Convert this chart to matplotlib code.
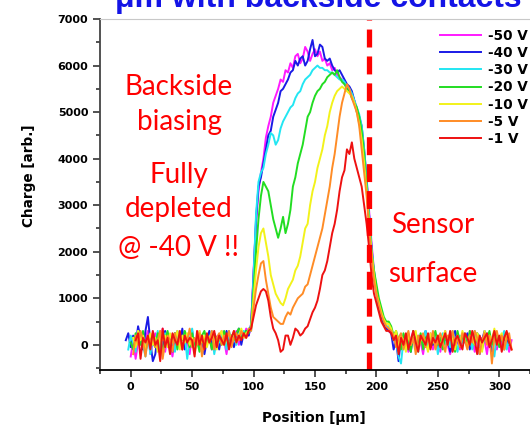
import matplotlib
matplotlib.use("Agg")
import matplotlib.pyplot as plt
import numpy as np
from matplotlib.ticker import MultipleLocator

nan = np.nan

# position grid [um], one sample every 2 um
x = np.arange(-4, 311, 2)

labels = ["-50 V", "-40 V", "-30 V", "-20 V", "-10 V", "-5 V", "-1 V"]
colors = ["#ff1aff", "#1a1ae6", "#22e6f2", "#22dd22", "#f2f21a", "#ff8c26", "#ee1111"]

# charge [arb.]
# rows: x=-4..98 (baseline), x=100..208 (signal), x=210..310 (baseline)
m50 = [nan, nan, -250, 100, -300, 50, 200, -100, 150, 300,
       -200, 50, 250, -50, 100, 350, -150, 200, 0, -250,
       150, 300, 50, -100, 200, 100, -200, 250, 0, 150,
       300, -150, 100, 50, 200, -100, 250, 150, -50, 300,
       100, -200, 200, 50, 150, 300, 0, 250, 150, 350,
       200, 400,
       1600, 2600, 3300, 3700, 4000, 4450, 4700, 4900, 5200, 5350,
       5500, 5700, 5650, 5900, 5850, 6050, 5950, 6200, 6250, 6050,
       6150, 6400, 6300, 6100, 6250, 6350, 6200, 6300, 6100, 6150,
       6000, 6050, 5900, 5950, 5800, 5750, 5700, 5600, 5550, 5450,
       5400, 5250, 5100, 4850, 4500, 4000, 3500, 2900, 2200, 1600,
       1200, 900, 700, 550, 400,
       300, 250, 150, 100, -100, 200, 0, 150, -150, 100,
       300, -50, 200, 50, -200, 150, 100, 250, -100, 50,
       200, -150, 100, 300, 0, -200, 100, 250, 50, -100,
       150, 200, -50, 300, 100, -150, 250, 0, 150, 100,
       -200, 200, 50, 300, -100, 150, 0, 250, 100, -150,
       100]
m40 = [100, 250, -50, 200, 0, 400, 150, -100, 300, 600,
       50, -350, -200, 200, 100, -50, 300, 50, 150, -150,
       250, 100, 0, 350, -100, 200, 100, 300, -50, 50,
       250, 150, -200, 100, 300, 0, 200, 150, -100, 250,
       50, 300, 100, 200, -50, 150, 350, 0, 250, 300,
       200, 450,
       1500, 2700, 3400, 3600, 3900, 4200, 4500, 4600, 4900, 5050,
       5200, 5450, 5500, 5600, 5700, 5850, 5900, 6100, 6000, 6150,
       6200, 6000, 6100, 6350, 6550, 6200, 6250, 6450, 6400, 6150,
       6100, 6150, 6000, 5900, 5850, 5900, 5800, 5700, 5600, 5550,
       5450, 5250, 5000, 4900, 4700, 4200, 3600, 2800, 2100, 1500,
       1100, 800, 600, 450, 350,
       300, 250, -100, 100, -350, 150, 0, 200, 100, -150,
       250, 50, -100, 200, 100, 300, -50, 150, 0, 250,
       -100, 100, 200, 50, 150, -150, 0, 300, 100, -50,
       200, 50, 250, -100, 150, 0, 200, -200, 100, 300,
       50, 150, -150, 250, 0, 100, 200, -100, 150, 0,
       nan]
m30 = [nan, -100, 200, 50, -150, 300, 100, 0, -250, 200,
       -200, 150, 50, 300, -100, 100, 250, -50, 200, 100,
       -150, 300, 50, 150, 200, -300, 100, 350, -100, 0,
       250, 100, -50, 200, 150, 300, -200, 100, 50, 250,
       150, -100, 300, 100, 200, 0, 250, 150, 300, 200,
       350, 300,
       1500, 2800, 3500, 3700, 3800, 4100, 4300, 4550, 4500, 4300,
       4400, 4650, 4800, 4900, 5000, 5100, 5150, 5300, 5400, 5450,
       5600, 5700, 5750, 5800, 5900, 5950, 6000, 5950, 5950, 5900,
       5900, 5850, 5850, 5800, 5750, 5700, 5700, 5650, 5550, 5500,
       5400, 5250, 5100, 4950, 4700, 4200, 3500, 2800, 2100, 1600,
       1200, 900, 700, 550, 400,
       400, 300, 100, 50, -250, -400, 100, 200, -100, 50,
       250, 0, -150, 200, 100, 300, -100, 150, 50, 200,
       -200, 100, 250, 0, 150, -50, 300, 100, -150, 200,
       50, 250, 0, 150, -100, 300, 100, 200, -50, 150,
       250, 0, 100, -250, 200, 50, 150, 300, -100, 100,
       nan]
m20 = [nan, nan, 50, -100, 250, 100, 0, 300, -150, 100,
       200, 50, -50, 250, 150, -200, 100, 300, 0, 150,
       250, -100, 200, 100, 300, 150, -50, 250, 0, 100,
       -150, 200, 300, 50, 150, -100, 250, 100, 200, 0,
       300, 150, -50, 200, 100, 250, 350, 150, 200, 300,
       250, 400,
       1200, 2000, 2700, 3200, 3500, 3400, 3300, 3000, 2700, 2500,
       2300, 2500, 2750, 2400, 2600, 2900, 3400, 3600, 3900, 4100,
       4300, 4600, 4900, 5000, 5200, 5350, 5450, 5500, 5600, 5650,
       5750, 5800, 5850, 5800, 5900, 5750, 5650, 5600, 5500, 5450,
       5300, 5200, 5100, 4900, 4600, 4100, 3400, 2700, 2000, 1600,
       1300, 1000, 800, 600, 500,
       500, 400, 200, 300, 100, -100, 250, 50, 150, -150,
       300, 100, 0, 250, -100, 150, 200, -50, 100, 300,
       0, 150, -100, 200, 50, 250, 100, -150, 300, 50,
       150, 200, -50, 300, 100, 0, 250, 150, -100, 200,
       100, 300, 0, 150, 250, -50, 200, 100, 250, 50,
       nan]
m10 = [nan, nan, nan, 150, -50, 300, 100, 200, -100, 50,
       250, 0, 150, -150, 300, 100, 200, -50, 250, 50,
       150, 300, -100, 200, 50, 250, 0, 150, -200, 100,
       300, 50, 200, -50, 150, 250, 100, -100, 200, 300,
       0, 150, 250, 100, 300, 50, 200, 350, 150, 250,
       300, 350,
       1000, 1600, 2100, 2400, 2500, 2200, 1900, 1500, 1300, 1100,
       1000, 900, 850, 1000, 1200, 1300, 1400, 1600, 1700, 1900,
       2200, 2500, 2600, 3000, 3300, 3500, 3800, 4000, 4200, 4500,
       4700, 5000, 5200, 5350, 5450, 5500, 5550, 5500, 5450, 5400,
       5350, 5200, 5000, 4750, 4400, 3900, 3300, 2600, 2000, 1500,
       1100, 900, 700, 550, 450,
       450, 350, 150, 300, -50, 200, 100, -150, 250, 0,
       150, 300, -100, 100, 200, 50, -150, 250, 100, 0,
       200, -50, 150, 300, 0, 250, 100, -100, 200, 50,
       300, 100, -50, 200, 150, 0, 250, 100, -150, 300,
       50, 200, 100, 350, 0, 150, 250, -100, 200, 100,
       nan]
m5 = [nan, nan, nan, -200, 200, 0, 300, 100, -250, 150,
      50, 250, -50, 100, 300, -300, 50, 200, 100, -150,
      250, 0, 150, -100, 200, 100, 350, -50, 150, 0,
      250, -250, 100, 200, 50, 300, -100, 150, 250, 0,
      200, 100, 300, -50, 150, 250, 100, 300, 200, 150,
      350, 300,
      800, 1200, 1500, 1750, 1800, 1400, 1100, 800, 600, 550,
      500, 450, 450, 600, 700, 650, 800, 900, 1000, 1050,
      1100, 1250, 1300, 1500, 1700, 1900, 2100, 2300, 2500, 2800,
      3100, 3400, 3800, 4100, 4500, 4900, 5200, 5400, 5600, 5500,
      5300, 5150, 5000, 4700, 4200, 3700, 3200, 2500, 1900, 1400,
      1100, 850, 650, 500, 400,
      350, 300, 200, -50, 150, 250, -100, 100, 300, 0,
      150, -200, 200, 100, 250, -50, 150, 0, 300, -100,
      100, 250, 50, -150, 200, 100, 300, 0, 150, -50,
      250, 100, -100, 200, 50, 300, 150, -200, 100, 250,
      0, 200, -400, 150, 300, 50, 200, -100, 150, 250,
      -100]
m1 = [nan, nan, nan, nan, 100, 250, -300, 150, 50, 200,
      -100, 300, 0, 100, -350, 350, -50, 150, -200, 250,
      100, 0, 300, -100, 200, 50, 150, 100, -250, 300,
      0, 200, -100, 250, 50, 150, 300, -50, 200, 100,
      0, 250, -100, 150, 300, 50, 200, 100, 250, 150,
      300, 350,
      600, 850, 1000, 1150, 1200, 1150, 950, 600, 350, 250,
      100, -150, -100, 200, 200, 0, 150, 350, 300, 200,
      250, 350, 400, 550, 700, 800, 950, 1200, 1500, 1600,
      1800, 2100, 2400, 2600, 2900, 3300, 3600, 3750, 4200, 4100,
      4350, 4000, 3800, 3600, 3400, 3000, 2600, 2100, 1500, 1100,
      900, 700, 500, 400, 300,
      300, 250, 100, 200, -200, 150, 0, 250, -100, 100,
      300, 50, -150, 200, 100, 0, 250, -100, 150, 50,
      200, -50, 100, 250, 0, 300, -150, 100, 200, 50,
      -100, 250, 150, 0, 300, 100, -200, 200, 50, 150,
      250, -50, 100, 300, 0, 200, -150, 150, 300, 50,
      -100]

series = [m50, m40, m30, m20, m10, m5, m1]
surface = 194  # sensor surface position [um]

W, H = 530, 425
bold = dict(family="DejaVu Sans", weight="bold")

fig = plt.figure(figsize=(W / 100, H / 100), dpi=100)
ax = fig.add_axes([100 / W, 1 - 370 / H, 430 / W, 351 / H])

for y, c, lab in zip(series, colors, labels):
    ax.plot(x, y, color=c, lw=1.4, label=lab)

ax.axvline(surface, color="#ff0000", lw=3.8, dashes=(3.4, 1.7))

ax.set_xlim(-25, 325)
ax.set_ylim(-540, 7000)
ax.xaxis.set_major_locator(MultipleLocator(50))
ax.xaxis.set_minor_locator(MultipleLocator(25))
ax.yaxis.set_major_locator(MultipleLocator(1000))
ax.yaxis.set_minor_locator(MultipleLocator(500))
ax.tick_params(which="major", length=5, width=1.2, direction="out", color="#333333", pad=3.5)
ax.tick_params(which="minor", length=3, width=1.2, direction="out", color="#333333")
for lab in ax.get_xticklabels() + ax.get_yticklabels():
    lab.set_fontproperties(bold)
    lab.set_fontsize(8)
ax.spines["right"].set_visible(False)
ax.spines["top"].set_color("#c8c8c8")
ax.spines["left"].set_color("#444444")
ax.spines["left"].set_linewidth(1.3)
ax.spines["bottom"].set_linewidth(1.3)

fig.text(314 / W, 1 - 422 / H, "Position [\u03bcm]", fontsize=9.8, ha="center", va="baseline", **bold)
fig.text(29 / W, 1 - 176 / H, "Charge [arb.]", fontsize=9.8, rotation=90, ha="center", va="center", **bold)

ax.legend(loc="upper left", bbox_to_anchor=(440 / W, 1 - 29 / H), bbox_transform=fig.transFigure,
          frameon=False, borderpad=0, borderaxespad=0,
          prop=dict(family="DejaVu Sans", weight="bold", size=9.8),
          handlelength=3.0, handletextpad=0.5, labelspacing=0.23)

red_txt = dict(color="#ff0000", fontsize=20, family="Lato", ha="center", va="baseline")
fig.text(179 / W, 1 - 95 / H, "Backside", **red_txt)
fig.text(179 / W, 1 - 130 / H, "biasing", **red_txt)
fig.text(179 / W, 1 - 183 / H, "Fully", **red_txt)
fig.text(179 / W, 1 - 217 / H, "depleted", **red_txt)
fig.text(179 / W, 1 - 256 / H, "@ -40 V !!", **red_txt)
fig.text(433 / W, 1 - 233 / H, "Sensor", **red_txt)
fig.text(433 / W, 1 - 282 / H, "surface", **red_txt)

fig.text(318 / W, 1 - 7 / H, "\u03bcm with backside contacts", color="#1414e6",
         fontsize=23, family="Liberation Sans", weight="bold", ha="center", va="baseline")

fig.savefig("out.png", dpi=100)
